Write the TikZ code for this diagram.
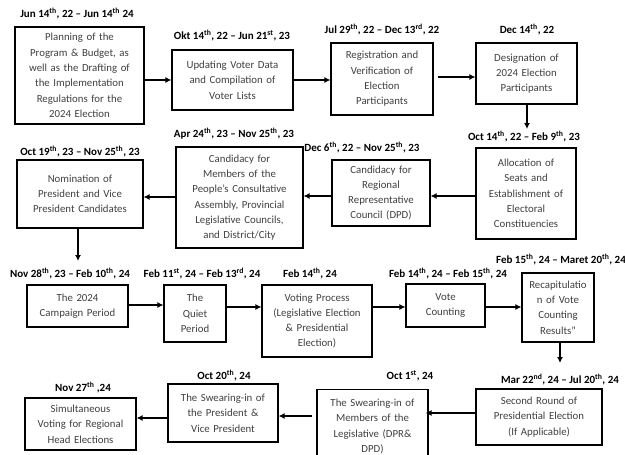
\documentclass[tikz,border=0pt]{standalone}
\usepackage{fontspec}
\setmainfont{Carlito}
\usetikzlibrary{arrows.meta}
\newcommand{\sps}[1]{\textsuperscript{#1}}
\tikzset{
  box/.style={draw, line width=1.1pt, align=center, inner sep=2pt,
    font=\fontsize{10.8}{15.3}\selectfont, text=black!75},
  lbl/.style={font=\bfseries\fontsize{11}{12}\selectfont, inner sep=0pt},
  arr/.style={line width=1.2pt, -{Latex[length=6pt,width=6pt]}}
}
\begin{document}
\begin{tikzpicture}[x=1pt,y=-1pt]
\fill[white] (0,0) rectangle (625,455);
\useasboundingbox (0,0) rectangle (625,455);
\clip (0,0) rectangle (625,455);
% row 1
\node[box, minimum width=129, minimum height=97, text width=121] (b1) at (79.5,75.5)
  {Planning of the\\Program \& Budget, as\\well as the Drafting of\\the Implementation\\Regulations for the\\2024 Election};
\node[lbl] (l1) at (77,14) {Jun 14\sps{th}, 22 -- Jun 14\sps{th} 24};
\node[box, minimum width=121, minimum height=60, text width=113] (b2) at (232.5,80)
  {Updating Voter Data\\and Compilation of\\Voter Lists};
\node[lbl] (l2) at (232,36) {Okt 14\sps{th}, 22 -- Jun 21\sps{st}, 23};
\node[box, minimum width=102, minimum height=72, text width=94] (b3) at (382,79)
  {Registration and\\Verification of\\Election\\Participants};
\node[lbl] (l3) at (382,30) {Jul 29\sps{th}, 22 -- Dec 13\sps{rd}, 22};
\node[box, minimum width=101, minimum height=61, text width=93] (b4) at (526.5,73.5)
  {Designation of\\2024 Election\\Participants};
\node[lbl] (l4) at (527,30) {Dec 14\sps{th}, 22};
% row 2
\node[box, minimum width=100, minimum height=91, text width=92] (b5) at (526,193.5)
  {Allocation of\\Seats and\\Establishment of\\Electoral\\Constituencies};
\node[lbl] (l5) at (524,137) {Oct 14\sps{th}, 22 -- Feb 9\sps{th}, 23};
\node[box, minimum width=98, minimum height=66, text width=92] (b6) at (381,193)
  {Candidacy for\\Regional\\Representative\\Council (DPD)};
\node[lbl] (l6) at (362,148) {Dec 6\sps{th}, 22 -- Nov 25\sps{th}, 23};
\node[box, minimum width=127, minimum height=101, text width=121] (b7) at (239.5,197.5)
  {Candidacy for\\Members of the\\People's Consultative\\Assembly, Provincial\\Legislative Councils,\\and District/City};
\node[lbl] (l7) at (234,134) {Apr 24\sps{th}, 23 -- Nov 25\sps{th}, 23};
\node[box, minimum width=126, minimum height=68, text width=120] (b8) at (80,194)
  {Nomination of\\President and Vice\\President Candidates};
\node[lbl] (l8) at (80,152) {Oct 19\sps{th}, 23 -- Nov 25\sps{th}, 23};
% row 3
\node[box, minimum width=101, minimum height=42, text width=95] (b9) at (77.5,306)
  {The 2024\\Campaign Period};
\node[lbl] (l9) at (70,274) {Nov 28\sps{th}, 23 -- Feb 10\sps{th}, 24};
\node[box, minimum width=62, minimum height=57, text width=56] (b10) at (195,313.5)
  {The\\Quiet\\Period};
\node[lbl] (l10) at (202,274) {Feb 11\sps{st}, 24 -- Feb 13\sps{rd}, 24};
\node[box, minimum width=110, minimum height=72, text width=106] (b11) at (317,321)
  {Voting Process\\(Legislative Election\\\& Presidential\\Election)};
\node[lbl] (l11) at (310,274) {Feb 14\sps{th}, 24};
\node[box, minimum width=79, minimum height=43, text width=73] (b12) at (445.5,305.5)
  {Vote\\Counting};
\node[lbl] (l12) at (448,274) {Feb 14\sps{th}, 24 -- Feb 15\sps{th}, 24};
\node[box, minimum width=72, minimum height=69, text width=66] (b13) at (558,307.5)
  {Recapitulatio\\n of Vote\\Counting\\Results''};
\node[lbl] (l13) at (561,260) {Feb 15\sps{th}, 24 -- Maret 20\sps{th}, 24};
% row 4
\node[box, minimum width=126, minimum height=56, text width=120] (b14) at (539,417)
  {Second Round of\\Presidential Election\\(If Applicable)};
\node[lbl] (l14) at (560,380) {Mar 22\sps{nd}, 24 -- Jul 20\sps{th}, 24};
\node[box, anchor=north, minimum width=111, text width=105] (b15) at (372.5,389)
  {\rule{0pt}{15pt}The Swearing-in of\\Members of the\\Legislative (DPR\&\\DPD)\\[16pt]\mbox{}};
\node[lbl] (l15) at (410,376) {Oct 1\sps{st}, 24};
\node[box, minimum width=110, minimum height=58, text width=104] (b16) at (223,413)
  {The Swearing-in of\\the President \&\\Vice President};
\node[lbl] (l16) at (224,376) {Oct 20\sps{th}, 24};
\node[box, minimum width=111, minimum height=52, text width=105] (b17) at (80.5,424)
  {Simultaneous\\Voting for Regional\\Head Elections};
\node[lbl] (l17) at (83,388) {Nov 27\sps{th} ,24};
% free ends
\coordinate (d4) at (527,129);
\coordinate (d8) at (78,261);
\coordinate (d13) at (560,363);
% connectors
\draw[arr] (b1.east |- b2.west) -- (b2.west);
\draw[arr] (b2.east) -- (b3.west |- b2.east);
\draw[arr] ([xshift=4pt]b3.east |- 0,77) -- (b4.west |- 0,77);
\draw[arr] (b4.south -| d4) -- (d4);
\draw[arr] (b5.west |- 0,196) -- (b6.east |- 0,196);
\draw[arr] (b6.west |- 0,196) -- (b7.east |- 0,196);
\draw[arr] (b7.west |- 0,197) -- (b8.east |- 0,197);
\draw[arr] (b8.south -| d8) -- (d8);
\draw[arr] (b9.east |- 0,305) -- (b10.west |- 0,305);
\draw[arr] (b10.east |- 0,307) -- (b11.west |- 0,307);
\draw[arr] (b11.east |- 0,307) -- (b12.west |- 0,307);
\draw[arr] (b12.east |- 0,307) -- (b13.west |- 0,307);
\draw[arr] (b13.south -| d13) -- (d13);
\draw[arr] (b14.west |- 0,413) -- ([xshift=-3pt]b15.east |- 0,413);
\draw[arr] ([xshift=-4pt]b15.west |- 0,416) -- (b16.east |- 0,416);
\draw[arr] (b16.west |- 0,418) -- (b17.east |- 0,418);
\end{tikzpicture}
\end{document}
